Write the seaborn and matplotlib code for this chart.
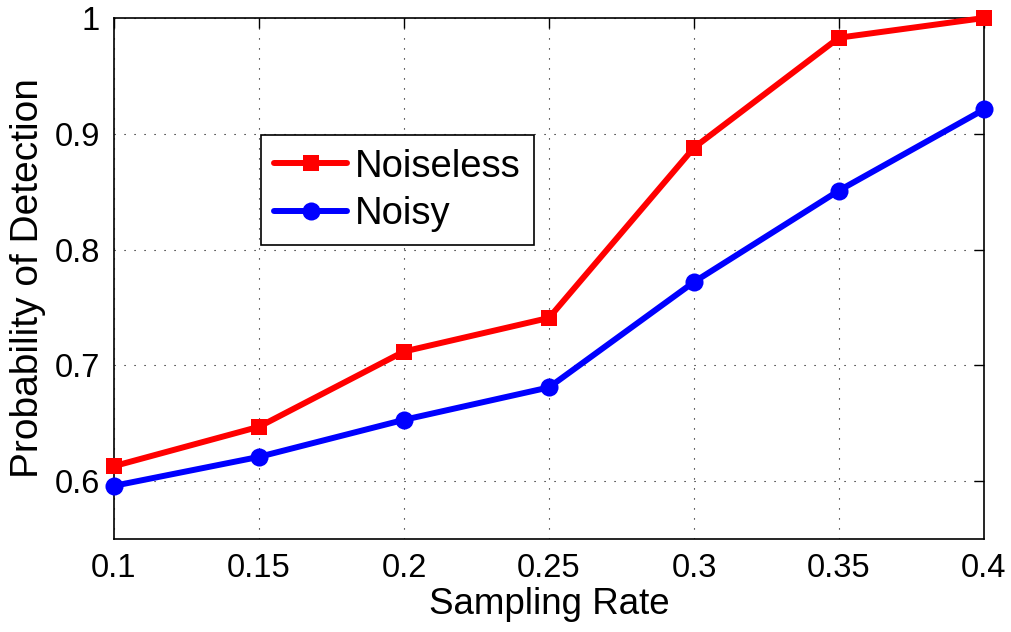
import matplotlib
matplotlib.use("Agg")
import matplotlib.pyplot as plt
import seaborn as sns
import pandas as pd

sampling_rate = [0.1, 0.15, 0.2, 0.25, 0.3, 0.35, 0.4]
noiseless = [0.613, 0.647, 0.712, 0.741, 0.888, 0.983, 1.0]
noisy = [0.596, 0.621, 0.653, 0.681, 0.772, 0.851, 0.921]
x_ticks = [0.1, 0.15, 0.2, 0.25, 0.3, 0.35, 0.4]
x_tick_labels = ["0.1", "0.15", "0.2", "0.25", "0.3", "0.35", "0.4"]
y_ticks = [0.6, 0.7, 0.8, 0.9, 1.0]
y_tick_labels = ["0.6", "0.7", "0.8", "0.9", "1"]

df = pd.DataFrame({
    "Sampling Rate": sampling_rate * 2,
    "Probability of Detection": noiseless + noisy,
    "Series": ["Noiseless"] * len(sampling_rate) + ["Noisy"] * len(sampling_rate),
})

sns.set_style("white")
plt.rcParams["font.family"] = ["Liberation Sans", "DejaVu Sans"]
plt.rcParams["text.color"] = "black"
plt.rcParams["axes.labelcolor"] = "black"

fig = plt.figure(figsize=(10.12, 6.32), dpi=100)
ax = fig.add_axes([0.1126, 0.147, 0.8597, 0.8245])

sns.lineplot(data=df, x="Sampling Rate", y="Probability of Detection", hue="Series",
             style="Series", markers={"Noiseless": "s", "Noisy": "o"}, dashes=False,
             palette={"Noiseless": "#ff0000", "Noisy": "#0000ff"},
             linewidth=4.3, markersize=11.5, markeredgewidth=0, ax=ax)
for line in ax.lines:
    line.set_clip_on(False)
    line.set_zorder(5)
    if line.get_marker() == "o":
        line.set_markersize(13)

ax.set_xlim(0.1, 0.4)
ax.set_ylim(0.55, 1.0)
ax.set_xticks(x_ticks)
ax.set_xticklabels(x_tick_labels)
ax.set_yticks(y_ticks)
ax.set_yticklabels(y_tick_labels)
ax.tick_params(direction="in", length=7, width=1, labelsize=23.5, colors="black",
               top=True, right=True, pad=10)
ax.set_xlabel("Sampling Rate", fontsize=26.5, labelpad=2)
ax.set_ylabel("Probability of Detection", fontsize=28, labelpad=6)
ax.grid(True, color="black", linestyle=(0, (1, 8)), linewidth=0.8)
for s in ax.spines.values():
    s.set_color("black")
    s.set_linewidth(1.2)
    s.set_visible(True)

leg = ax.legend(loc="upper left", bbox_to_anchor=(0.169, 0.775), fontsize=27.5,
                frameon=True, fancybox=False, edgecolor="black", handlelength=1.9,
                borderpad=0.35, labelspacing=0.3, handletextpad=0.2, borderaxespad=0)
leg.get_frame().set_linewidth(1.2)
leg.get_frame().set_alpha(1)

fig.savefig("out.png", dpi=100)
